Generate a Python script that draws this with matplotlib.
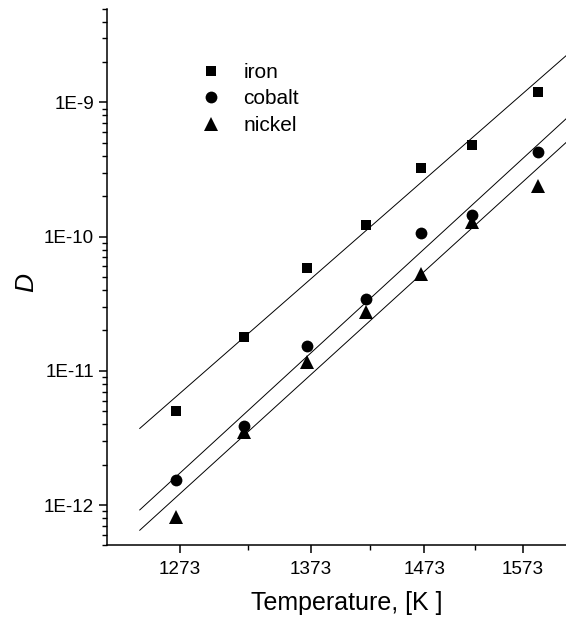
import numpy as np
import matplotlib
matplotlib.use('Agg')
import matplotlib.pyplot as plt
from matplotlib.ticker import FixedLocator, NullFormatter

plt.rcParams['font.family'] = ['Liberation Sans', 'DejaVu Sans']

# temperatures [K] and diffusion coefficients
T = [1270, 1320, 1370, 1420, 1470, 1520, 1590]
D_iron = [5.0e-12, 1.78e-11, 5.8e-11, 1.22e-10, 3.26e-10, 4.86e-10, 1.20e-9]
D_cobalt = [1.55e-12, 3.87e-12, 1.54e-11, 3.46e-11, 1.07e-10, 1.44e-10, 4.29e-10]
D_nickel = [8.1e-13, 3.53e-12, 1.16e-11, 2.75e-11, 5.28e-11, 1.29e-10, 2.40e-10]

labels = ['iron', 'cobalt', 'nickel']
x_major = [1273, 1373, 1473, 1573]
x_minor = [1323, 1423, 1523]
y_major = [1e-12, 1e-11, 1e-10, 1e-9]
y_major_labels = ['1E-12', '1E-11', '1E-10', '1E-9']
fit_range = [1245, 1625]

fig = plt.figure(figsize=(5.66, 6.21), dpi=100)
ax = fig.add_axes([0.1885, 0.1216, 0.8115, 0.8644])

# x axis is linear in 1/T
ax.set_xscale('function', functions=(lambda x: -1.0 / x, lambda y: -1.0 / y))
ax.set_yscale('log')

series = [D_iron, D_cobalt, D_nickel]
markers = ['s', 'o', '^']
msizes = [7.5, 8.5, 9.5]
Tarr = np.array(T, dtype=float)
Tfit = np.array(fit_range, dtype=float)
for D, m, ms, lab in zip(series, markers, msizes, labels):
    ax.plot(T, D, linestyle='none', marker=m, markersize=ms, color='black',
            markeredgewidth=0, label=lab)
    # Arrhenius fit: log10(D) linear in 1/T
    k, b = np.polyfit(1.0 / Tarr, np.log10(D), 1)
    ax.plot(Tfit, 10 ** (k / Tfit + b), color='black', linewidth=0.7)

ax.set_xlim(1223, 1621)
ax.set_ylim(5e-13, 5e-9)

ax.xaxis.set_major_locator(FixedLocator(x_major))
ax.xaxis.set_minor_locator(FixedLocator(x_minor))
ax.set_xticklabels([str(v) for v in x_major])
ax.xaxis.set_minor_formatter(NullFormatter())

ax.yaxis.set_major_locator(FixedLocator(y_major))
ax.set_yticklabels(y_major_labels)
ax.yaxis.set_minor_locator(matplotlib.ticker.LogLocator(base=10, subs=np.arange(2, 10)))
ax.yaxis.set_minor_formatter(NullFormatter())

ax.spines['top'].set_visible(False)
ax.spines['right'].set_visible(False)
ax.spines['left'].set_linewidth(1.1)
ax.spines['bottom'].set_linewidth(1.1)
ax.tick_params(which='major', direction='out', length=6, width=1.1, labelsize=13.6, pad=3)
ax.tick_params(which='minor', direction='out', length=3.3, width=1.0)
ax.tick_params(axis='x', which='major', pad=5)

ax.set_xlabel('Temperature, [K ]', fontsize=18)
ax.xaxis.set_label_coords(0.523, -0.085)
ax.set_ylabel('D', fontsize=19, fontstyle='italic')
ax.yaxis.set_label_coords(-0.15, 0.49)

ax.legend(loc='upper left', bbox_to_anchor=(0.205, 0.899), frameon=False, fontsize=15,
          numpoints=1, handlelength=1.0, handletextpad=1.04, labelspacing=0.36,
          borderpad=0, borderaxespad=0)

fig.savefig('out.png', dpi=100)
